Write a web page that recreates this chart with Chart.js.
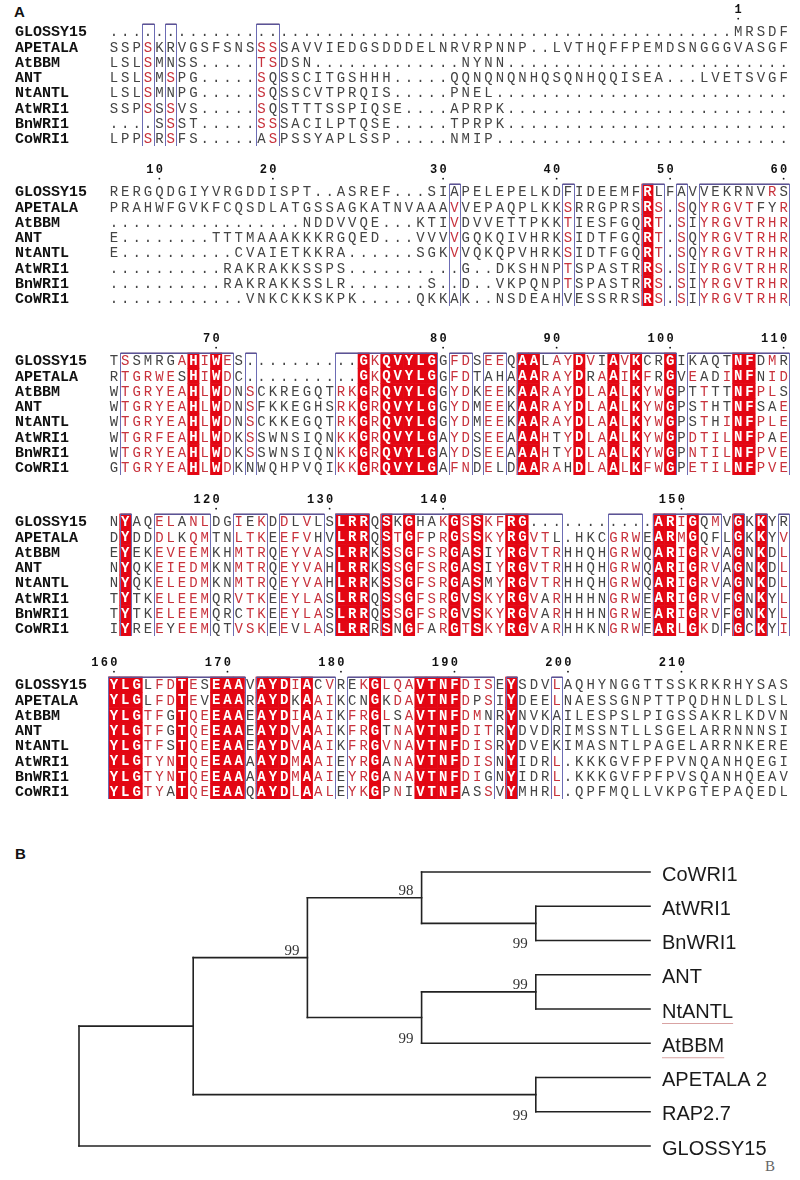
<!DOCTYPE html>
<html>
<head>
<meta charset="utf-8">
<script src="https://cdn.jsdelivr.net/npm/chart.js@4.4.1/dist/chart.umd.min.js"></script>
<style>
  body { margin: 0; background: #fff; }
  #page { position: relative; width: 800px; height: 1180px; overflow: hidden; background: #fff; }
  #page canvas { position: absolute; left: 0; }
  .panel { position: absolute; font: bold 15px "Liberation Sans", Arial, sans-serif; color: #111; }
  .mark { position: absolute; font: 15px "Liberation Serif", serif; color: #666; }
</style>
</head>
<body>
<div id="page">
  <div class="panel" style="left:14px;top:3px">A</div>
  <div class="panel" style="left:15px;top:845px">B</div>
  <div class="mark" style="left:765px;top:1158px">B</div>
</div>
<script>
// ---- panel A: alignment ----
const seqNames = ["GLOSSY15", "APETALA", "AtBBM", "ANT", "NtANTL", "AtWRI1", "BnWRI1", "CoWRI1"];

const block1 = [
  ".........." + ".........." + ".........." + ".........." + ".........." + "....." + "MRSDF",
  "SSPSKRVGSFSNSSSSAVVIEDGSDDDELNRVRPNNP..LVTHQFFPEMDSNGGGVASGF",
  "LSLSMNSS.....TSDSN" + "............." + "NYNN" + "........................." ,
  "LSLSMSPG.....SQSSCITGSHHH.....QQNQNQNHQSQNHQQISEA...LVETSVGF",
  "LSLSMNPG.....SQSSCVTPRQIS.....PNEL" + ".........................." ,
  "SSPSSSVS.....SQSTTTSSPIQSE....APRPK" + ".........................",
  "....SSST.....SSSACILPTQSE.....TPRPK" + ".........................",
  "LPPSRSFS.....ASPSSYAPLSSP.....NMIP" + ".........................."
];
const block2 = [
  "RERGQDGIYVRGDDISPT..ASREF...SIAPELEPELKDFIDEEMFRLFAVVEKRNVRS",
  "PRAHWFGVKFCQSDLATGSSAGKATNVAAAVVEPAQPLKKSRRGPRSRS.SQYRGVTFYR",
  "................." + "NDDVVQE..." + "KTIVDVVETTPKKTIESFGQRT.SIYRGVTRHR",
  "E........TTTMAAAKKKRGQED...VVVVGQKQIVHRKSIDTFGQRT.SQYRGVTRHR",
  "E..........CVAIETKKRA......SGKVVQKQPVHRKSIDTFGQRT.SQYRGVTRHR",
  "..........RAKRAKKSSPS..........G..DKSHNPTSPASTRRS.SIYRGVTRHR",
  "..........RAKRAKKSSLR.......S..D..VKPQNPTSPASTRRS.SIYRGVTRHR",
  "............VNKCKKSKPK.....QKKAK..NSDEAHVESSRRSRS.SIYRGVTRHR"
];
const block3 = [
  "TSSMRGAHIWES..........GKQVYLGGFDSEEQAALAYDVIAVKCRGIKAQTNFDMR",
  "RTGRWESHIWDC..........GKQVYLGGFDTAHAAARAYDRAAIKFRGVEADINFNID",
  "WTGRYEAHLWDNSCKREGQTRKGRQVYLGGYDKEEKAARAYDLAALKYWGPTTTTNFPLS",
  "WTGRYEAHLWDNSFKKEGHSRKGRQVYLGGYDMEEKAARAYDLAALKYWGPSTHTNFSAE",
  "WTGRYEAHLWDNSCKKEGQTRKGRQVYLGGYDMEEKAARAYDLAALKYWGPSTHINFPLE",
  "WTGRFEAHLWDKSSWNSIQNKKGRQVYLGAYDSEEAAAHTYDLAALKYWGPDTILNFPAE",
  "WTGRYEAHLWDKSSWNSIQNKKGRQVYLGAYDSEEAAAHTYDLAALKYWGPNTILNFPVE",
  "GTGRYEAHLWDKNWQHPVQIKKGRQVYLGAFNDELDAARAHDLAALKFWGPETILNFPVE"
];
const block4 = [
  "NYAQELANLDGIEKDDLVLSLRRQSKGHAKGSSKFRG...........ARIGQMVGKKYR",
  "DYDDDLKQMTNLTKEEFVHVLRRQSTGFPRGSSKYRGVTL.HKCGRWEARMGQFLGKKYV",
  "EYEKEVEEMKHMTRQEYVASLRRKSSGFSRGASIYRGVTRHHQHGRWQARIGRVAGNKDL",
  "NYQKEIEDMKNMTRQEYVAHLRRKSSGFSRGASIYRGVTRHHQHGRWQARIGRVAGNKDL",
  "NYQKELEDMKNMTRQEYVAHLRRKSSGFSRGASMYRGVTRHHQHGRWQARIGRVAGNKDL",
  "TYTKELEEMQRVTKEEYLASLRRQSSGFSRGVSKYRGVARHHHNGRWEARIGRVFGNKYL",
  "TYTKELEEMQRCTKEEYLASLRRQSSGFSRGVSKYRGVARHHHNGRWEARIGRVFGNKYL",
  "IYREEYEEMQTVSKEEVLASLRRRSNGFARGTSKYRGVARHHKNGRWEARLGKDFGCKYI"
];
const block5 = [
  "YLGLFDTESEAAVAYDIACVREKGLQAVTNFDISEYSDVLAQHYNGGTTSSKRKRHYSAS",
  "YLGLFDTEVEAARAYDKAAIKCNGKDAVTNFDPSIYDEELNAESSGNPTTPQDHNLDLSL",
  "YLGTFGTQEEAAEAYDIAAIKFRGLSAVTNFDMNRYNVKAILESPSLPIGSSAKRLKDVN",
  "YLGTFGTQEEAAEAYDVAAIKFRGTNAVTNFDITRYDVDRIMSSNTLLSGELARRNNNSI",
  "YLGTFSTQEEAAEAYDVAAIKFRGVNAVTNFDISRYDVEKIMASNTLPAGELARRNKERE",
  "YLGTYNTQEEAAAAYDMAAIEYRGANAVTNFDISNYIDRL.KKKGVFPFPVNQANHQEGI",
  "YLGTYNTQEEAAAAYDMAAIEYRGANAVTNFDIGNYIDRL.KKKGVFPFPVSQANHQEAV",
  "YLGTYATQEEAAQAYDLAALEYKGPNIVTNFASSVYMHRL.QPFMQLLVKPGTEPAQEDL"
];
// column classes: R = strictly conserved, f = similar (framed), - = none
const blockClasses = [
  "---f-f-------ff---------------------------------------------",
  "------------------------------f---------f------Rf-f-ffffffff",
  "-ffffffRfRf-f-------ffRfRRRRR-ff-ff-RRfffRffRfRffR-ffffRRfff",
  "-R--fffff--fff-ffff-RRR-RfRfffRfRffRRfff----fff-RRfRff-R-R-f",
  "RRRfffRffRRR-RRRfRff-ffRfffRRRRfff-R---f--------------------"
];
const blocks = [block1, block2, block3, block4, block5];

// layout (pixels)
const blockRowTop = [32, 192, 361, 522, 685];
const padTop = 30;

const simGroups = ["ILVM", "FYW", "KRH", "DENQ", "ST", "AG", "P", "C"];
const groupOf = ch => simGroups.find(g => g.includes(ch)) || null;

// ruler numbers follow the first sequence
let resNo = 0;
const rulers = blocks.map(b => {
  const marks = [];
  for (let c = 0; c < 60; c++) {
    if (b[0][c] !== ".") {
      resNo++;
      if (resNo === 1 || resNo % 10 === 0) marks.push({ col: c, n: resNo });
    }
  }
  return marks;
});

const page = document.getElementById("page");

const alignPlugin = {
  id: "align",
  afterDatasetsDraw(chart, args, opts) {
    const ctx = chart.ctx;
    const xs = chart.scales.x, ys = chart.scales.y;
    const k = opts.block;
    const seqs = blocks[k], cls = blockClasses[k];
    const cw = xs.getPixelForValue(0.5) - xs.getPixelForValue(-0.5);
    const rh = ys.getPixelForValue(0.5) - ys.getPixelForValue(-0.5);
    const meta = chart.getDatasetMeta(0);
    const data = chart.data.datasets[0].data;

    // majority similarity group per column
    const best = [];
    for (let c = 0; c < 60; c++) {
      const cnt = {};
      seqs.forEach(s => { const g = groupOf(s[c]); if (g) cnt[g] = (cnt[g] || 0) + 1; });
      let bg = null, bn = 0;
      for (const g in cnt) if (cnt[g] > bn) { bn = cnt[g]; bg = g; }
      best.push(bn >= 2 ? bg : null);
    }

    ctx.save();
    // red boxes
    ctx.fillStyle = "#e30613";
    meta.data.forEach((el, i) => {
      const d = data[i];
      if (d.cls === "R" && d.ch !== ".") ctx.fillRect(el.x - cw / 2 - 0.3, el.y - rh / 2 - 0.3, cw + 0.6, rh + 0.6);
    });
    // frames
    ctx.strokeStyle = "#6c6cb4";
    ctx.lineWidth = 1;
    let c = 0;
    while (c < 60) {
      if (cls[c] === "-") { c++; continue; }
      let e = c;
      while (e + 1 < 60 && cls[e + 1] !== "-") e++;
      const x0 = Math.round(xs.getPixelForValue(c - 0.5)) + 0.5;
      const x1 = Math.round(xs.getPixelForValue(e + 0.5)) + 0.5;
      const y0 = Math.round(ys.getPixelForValue(-0.5)) + 0.5;
      const y1 = Math.round(ys.getPixelForValue(7.5)) + 0.5;
      ctx.strokeRect(x0, y0, x1 - x0, y1 - y0);
      ctx.beginPath();
      ctx.strokeStyle = "#4a3a7a";
      ctx.moveTo(x0, y0 - 0.5); ctx.lineTo(x1, y0 - 0.5);
      ctx.stroke();
      ctx.strokeStyle = "#6c6cb4";
      c = e + 1;
    }
    // residues
    ctx.textAlign = "center";
    ctx.textBaseline = "middle";
    meta.data.forEach((el, i) => {
      const d = data[i];
      if (d.cls === "R" && d.ch !== ".") {
        ctx.font = 'bold 14px "Liberation Mono", monospace';
        ctx.fillStyle = "#fff";
      } else {
        ctx.font = '14px "Liberation Mono", monospace';
        const red = d.cls === "f" && d.ch !== "." && groupOf(d.ch) === best[d.x];
        ctx.fillStyle = red ? "#c8323c" : "#444";
      }
      ctx.fillText(d.ch, el.x, el.y + 1);
    });
    // sequence names
    ctx.textAlign = "left";
    ctx.font = 'bold 15px "Liberation Mono", monospace';
    ctx.fillStyle = "#111";
    seqNames.forEach((n, r) => ctx.fillText(n, 15, ys.getPixelForValue(r) + 1));
    // ruler
    const yTop = ys.getPixelForValue(0);
    ctx.font = 'bold 12px "Liberation Mono", monospace';
    ctx.textAlign = "center";
    rulers[k].forEach(m => {
      const x = xs.getPixelForValue(m.col);
      const digits = String(m.n).split("");
      digits.forEach((dg, j) => ctx.fillText(dg, x - (digits.length - 1 - j) * 9.5, yTop - 22));
      ctx.beginPath();
      ctx.arc(x, yTop - 13, 0.9, 0, Math.PI * 2);
      ctx.fill();
    });
    ctx.restore();
  }
};

blocks.forEach((seqs, k) => {
  const canvas = document.createElement("canvas");
  canvas.width = 800;
  canvas.height = 152;
  canvas.style.top = (blockRowTop[k] - padTop - 7.6) + "px";
  page.appendChild(canvas);
  const cells = [];
  seqs.forEach((s, r) => {
    for (let c = 0; c < 60; c++) cells.push({ x: c, y: r, ch: s[c], cls: blockClasses[k][c] });
  });
  new Chart(canvas, {
    type: "scatter",
    data: { datasets: [{ data: cells, pointRadius: 0, pointHoverRadius: 0 }] },
    options: {
      responsive: false,
      animation: false,
      devicePixelRatio: 1,
      events: [],
      layout: { padding: { left: 108.3, right: 10.7, top: padTop, bottom: 0 } },
      scales: {
        x: { type: "linear", min: -0.5, max: 59.5, display: false },
        y: { type: "linear", min: -0.5, max: 7.5, reverse: true, display: false }
      },
      plugins: { legend: { display: false }, tooltip: { enabled: false }, align: { block: k } }
    },
    plugins: [alignPlugin]
  });
});

// ---- panel B: tree ----
const leafNames = ["CoWRI1", "AtWRI1", "BnWRI1", "ANT", "NtANTL", "AtBBM", "APETALA 2", "RAP2.7", "GLOSSY15"];
const nodeNames = ["WRI1pair", "WRIclade", "ANTpair", "ANTclade", "core", "AP2pair", "ingroup", "root"];
const nodeChildren = [
  ["AtWRI1", "BnWRI1"], ["CoWRI1", "WRI1pair"], ["ANT", "NtANTL"], ["ANTpair", "AtBBM"],
  ["WRIclade", "ANTclade"], ["APETALA 2", "RAP2.7"], ["core", "AP2pair"], ["ingroup", "GLOSSY15"]
];
const nodeDepth = [4, 3, 4, 3, 2, 4, 1, 0];
const nodeSupport = [99, 98, 99, 99, 99, 99, null, null];
const leafDepth = 5;

// label placement (style)
const supportSide = ["below", "above", "above", "below", "above", "below", null, null];
const underlined = ["NtANTL", "AtBBM"];

const yOf = {}, dOf = {};
leafNames.forEach((n, i) => { yOf[n] = i; dOf[n] = leafDepth; });
nodeNames.forEach((n, i) => {
  const ch = nodeChildren[i];
  yOf[n] = (yOf[ch[0]] + yOf[ch[ch.length - 1]]) / 2;
  dOf[n] = nodeDepth[i];
});

const segs = [];
nodeNames.forEach((n, i) => {
  const ch = nodeChildren[i];
  segs.push([{ x: dOf[n], y: yOf[ch[0]] }, { x: dOf[n], y: yOf[ch[ch.length - 1]] }]);
  ch.forEach(c => segs.push([{ x: dOf[n], y: yOf[c] }, { x: dOf[c], y: yOf[c] }]));
});

const treePlugin = {
  id: "treeLabels",
  afterDatasetsDraw(chart) {
    const ctx = chart.ctx;
    const xs = chart.scales.x, ys = chart.scales.y;
    ctx.save();
    ctx.font = '20px "Liberation Sans", Arial, sans-serif';
    ctx.fillStyle = "#1a1a1a";
    ctx.textAlign = "left";
    ctx.textBaseline = "middle";
    const lx = xs.getPixelForValue(leafDepth) + 12;
    leafNames.forEach((n, i) => {
      const y = ys.getPixelForValue(i);
      ctx.fillText(n, lx, y + 3);
      if (underlined.includes(n)) {
        const w = ctx.measureText(n).width;
        ctx.strokeStyle = "#d9a3a3";
        ctx.lineWidth = 1;
        ctx.beginPath();
        ctx.moveTo(lx, y + 14.5); ctx.lineTo(lx + w, y + 14.5);
        ctx.stroke();
      }
    });
    ctx.font = '15px "Liberation Serif", "Times New Roman", serif';
    ctx.fillStyle = "#333";
    ctx.textAlign = "right";
    ctx.textBaseline = "alphabetic";
    nodeNames.forEach((n, i) => {
      if (nodeSupport[i] == null) return;
      const x = xs.getPixelForValue(dOf[n]) - 8;
      const y = ys.getPixelForValue(yOf[n]);
      ctx.fillText(String(nodeSupport[i]), x, supportSide[i] === "above" ? y - 3 : y + 25);
    });
    ctx.restore();
  }
};

const treeCanvas = document.createElement("canvas");
treeCanvas.width = 800;
treeCanvas.height = 380;
treeCanvas.style.top = "800px";
page.appendChild(treeCanvas);

new Chart(treeCanvas, {
  type: "scatter",
  data: {
    datasets: segs.map(s => ({
      data: s,
      showLine: true,
      borderColor: "#222",
      borderWidth: 1.6,
      borderCapStyle: "square",
      pointRadius: 0,
      pointHoverRadius: 0,
      clip: false
    }))
  },
  options: {
    responsive: false,
    animation: false,
    devicePixelRatio: 1,
    events: [],
    layout: { padding: { left: 79, right: 150, top: 72, bottom: 34 } },
    scales: {
      x: { type: "linear", min: 0, max: 5, display: false },
      y: { type: "linear", min: 0, max: 8, reverse: true, display: false }
    },
    plugins: { legend: { display: false }, tooltip: { enabled: false } }
  },
  plugins: [treePlugin]
});
</script>
</body>
</html>
